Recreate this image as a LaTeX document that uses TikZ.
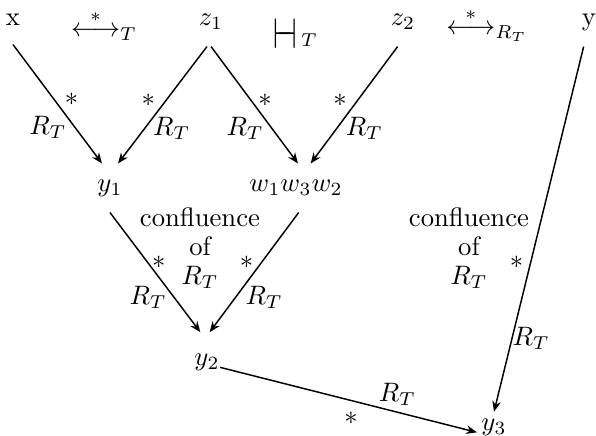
\documentclass[tikz,border=0pt]{standalone}
\usepackage{amsmath}
\usetikzlibrary{
    arrows.meta,
    positioning
}
\tikzstyle{term} = [
    inner sep=0pt,
    minimum height=18pt
]
\tikzstyle{lbl} = [
    inner sep=0pt
]
\tikzstyle{conf} = [
    align=center,
    inner sep=0pt,
    font=\linespread{0.9}\selectfont
]
\tikzstyle{arrow} = [
    ->,
    >={Stealth[length=4pt, width=3.2pt]},
    line width=0.55pt
]

\begin{document}
\begin{tikzpicture}[x=0.375pt, y=-0.375pt]
        \useasboundingbox (0,0) rectangle (596,435);

        % Top row
        \node[term] (x) at (13,20) {x};
        \node[term] (z1) at (211,22) {$z_1$};
        \node[term] (z2) at (403,22) {$z_2$};
        \node[term] (y) at (589,22) {y};

        % Relations
        \node[lbl] (redT) at (104,25) {$\overset{*}{\longleftrightarrow}_T$};
        \node[lbl] (joinT) at (295,34) {\scalebox{1.2}[1.6]{$\vdash\!\!\!\dashv$}\,\raisebox{1pt}{$\scriptstyle T$}};
        \node[lbl] (redR) at (487,25) {$\overset{*}{\longleftrightarrow}_{R_T}$};

        % Middle and bottom
        \node[term] (y1) at (110,188) {$y_1$};
        \node[term] (w) at (296,188) {$w_1w_3w_2$};
        \node[term] (y2) at (207,362) {$y_2$};
        \node[term] (y3) at (494,427) {$y_3$};
        \node[conf] (confl) at (200,248) {confluence\\of\\$R_T$};
        \node[conf] (confr) at (469,248) {confluence\\of\\$R_T$};

        % Arrows
        \draw[arrow] (x.south) -- node[lbl, pos=.46, right=3.8pt] {$*$} node[lbl, pos=.7, left=3.1pt] {$R_T$} ([xshift=-3pt]y1.north);
        \draw[arrow] ([xshift=-1.5pt]z1.south) -- node[lbl, pos=.46, left=3.9pt] {$*$} node[lbl, pos=.7, right=2.9pt] {$R_T$} ([xshift=3pt]y1.north);
        \draw[arrow] (z1.south) -- node[lbl, pos=.46, right=2.5pt] {$*$} node[lbl, pos=.7, left=2.8pt] {$R_T$} ([xshift=0.75pt]w.north);
        \draw[arrow] ([xshift=-2pt]z2.south) -- node[lbl, pos=.46, left=3.8pt] {$*$} node[lbl, pos=.7, right=3.1pt] {$R_T$} ([xshift=5.5pt]w.north);
        \draw[arrow] (y1.south) -- node[lbl, pos=.42, right=1.3pt] {$*$} node[lbl, pos=.71, left=2.5pt] {$R_T$} ([xshift=-2.5pt,yshift=2pt]y2.north);
        \draw[arrow] ([xshift=1pt]w.south) -- node[lbl, pos=.42, left=2.8pt] {$*$} node[lbl, pos=.71, right=3.5pt] {$R_T$} ([xshift=1pt,yshift=2pt]y2.north);
        \draw[arrow] ([xshift=-2pt]y.south) -- node[lbl, pos=.59, left=2.6pt] {$*$} node[lbl, pos=.8, right=0pt] {$R_T$} ([yshift=-3.5pt]y3.north);
        \draw[arrow] ([yshift=-2pt]y2.east) -- node[lbl, pos=.51, below=3.9pt] {$*$} node[lbl, pos=.69, above=2.3pt] {$R_T$} ([xshift=-1.5pt,yshift=-2pt]y3.west);
    \end{tikzpicture}
\end{document}
